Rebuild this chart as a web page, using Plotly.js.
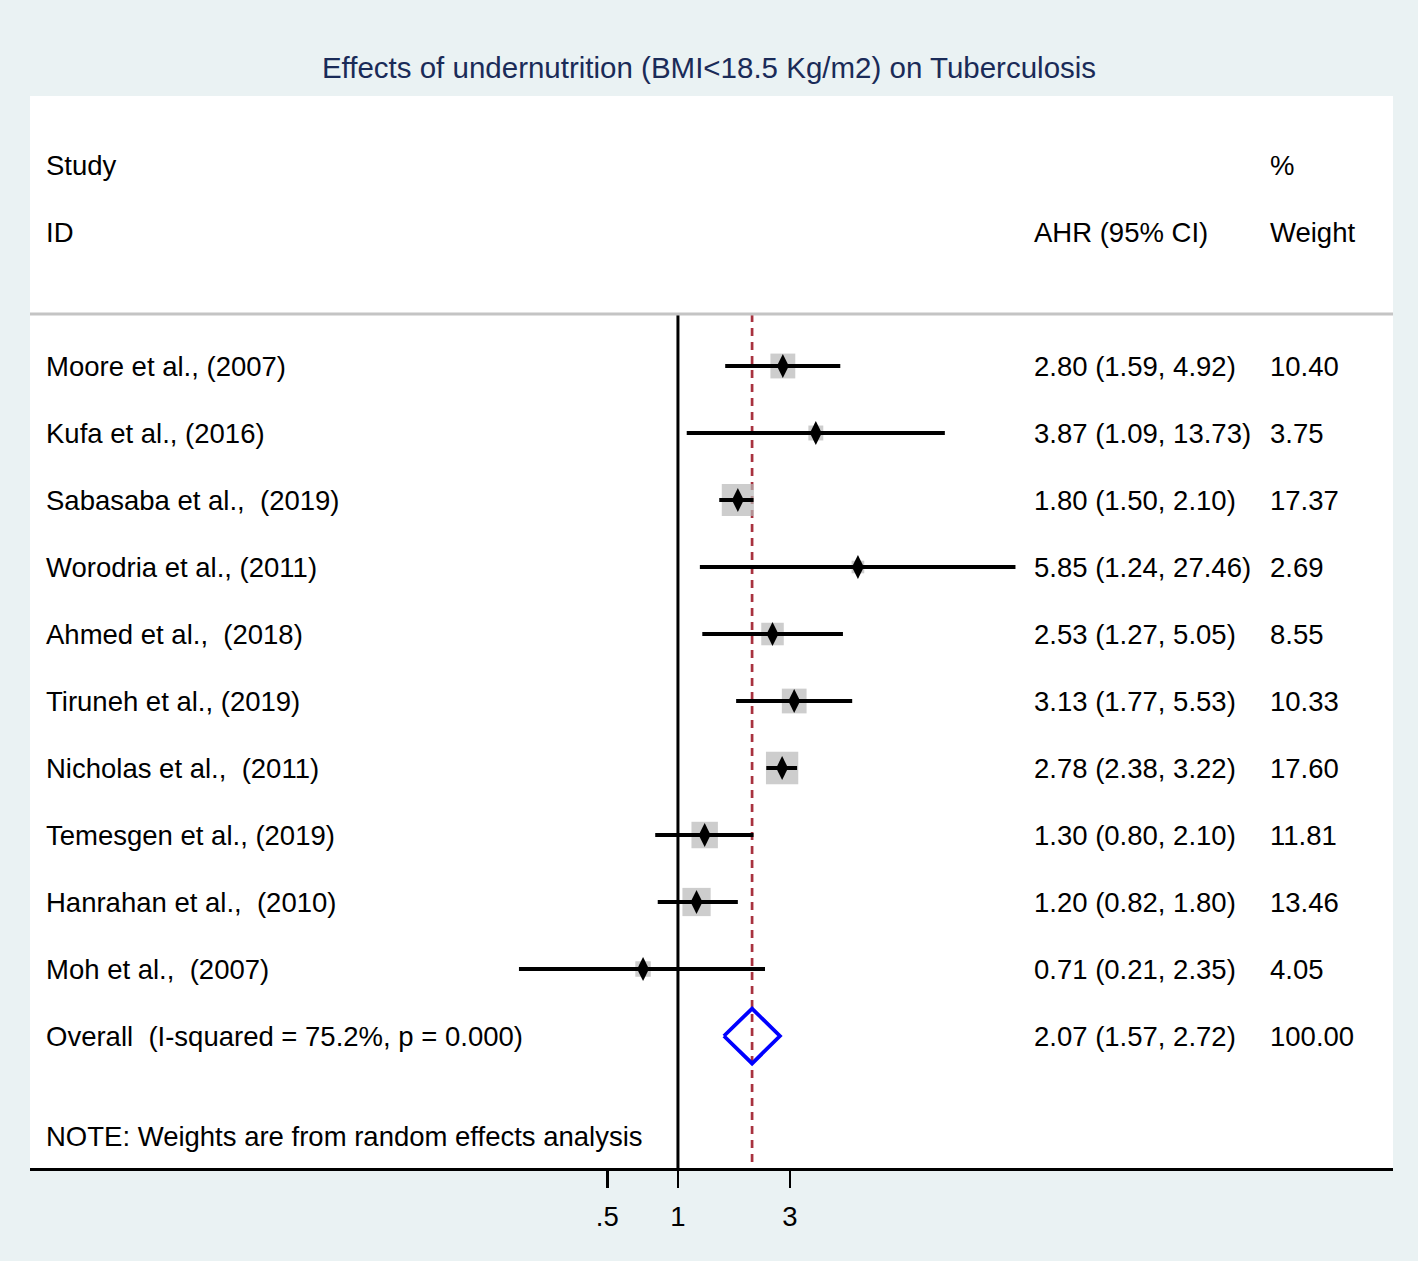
<!DOCTYPE html>
<html>
<head>
<meta charset="utf-8">
<script src="https://cdn.plot.ly/plotly-3.0.1.min.js"></script>
<style>html,body{margin:0;padding:0;background:#eaf2f3;}#chart{width:1418px;height:1261px;}</style>
</head>
<body>
<div id="chart"></div>
<script>
// ---- data ----
const studies = [
  "Moore et al., (2007)",
  "Kufa et al., (2016)",
  "Sabasaba et al., \u00a0(2019)",
  "Worodria et al., (2011)",
  "Ahmed et al., \u00a0(2018)",
  "Tiruneh et al., (2019)",
  "Nicholas et al., \u00a0(2011)",
  "Temesgen et al., (2019)",
  "Hanrahan et al., \u00a0(2010)",
  "Moh et al., \u00a0(2007)"
];
const ahr     = [2.80, 3.87, 1.80, 5.85, 2.53, 3.13, 2.78, 1.30, 1.20, 0.71];
const ciLow   = [1.59, 1.09, 1.50, 1.24, 1.27, 1.77, 2.38, 0.80, 0.82, 0.21];
const ciHigh  = [4.92, 13.73, 2.10, 27.46, 5.05, 5.53, 3.22, 2.10, 1.80, 2.35];
const weights = [10.40, 3.75, 17.37, 2.69, 8.55, 10.33, 17.60, 11.81, 13.46, 4.05];
const overallLabel = "Overall \u00a0(I-squared = 75.2%, p = 0.000)";
const overallEst = 2.07, overallLow = 1.57, overallHigh = 2.72, overallWeight = 100.00;
const tickVals = [0.5, 1, 3];
const tickText = [".5", "1", "3"];

// ---- build ----
const FONT = "Liberation Sans, Arial, Helvetica, sans-serif";
const rows = studies.map((_, i) => i);
const overallRow = studies.length;
const yTop = -0.776;          // header separator
const yBottom = 11.97;

const ciX = [], ciY = [];
rows.forEach(i => { ciX.push(ciLow[i], ciHigh[i], null); ciY.push(i, i, null); });

const traces = [
  { // reference line at 1
    x: [1, 1], y: [yTop, yBottom], mode: 'lines',
    line: { color: 'black', width: 3 }, hoverinfo: 'skip', showlegend: false
  },
  { // overall dashed line
    x: [overallEst, overallEst], y: [yTop, yBottom], mode: 'lines',
    line: { color: '#a8323f', width: 2.7, dash: '8px,6px' }, hoverinfo: 'skip', showlegend: false
  },
  { // weight boxes
    x: ahr, y: rows, mode: 'markers', type: 'scatter',
    marker: { symbol: 'square', color: '#b8b8b8', size: weights.map(w => 7.7 * Math.sqrt(w)), line: { width: 0 } },
    showlegend: false
  },
  { // CIs
    x: ciX, y: ciY, mode: 'lines', line: { color: 'black', width: 4 }, showlegend: false
  },
  { // point estimates
    x: ahr, y: rows, mode: 'markers',
    marker: { symbol: 'diamond-tall', color: 'black', size: 17, line: { width: 0 } }, showlegend: false
  },
  { // overall diamond
    x: [overallLow, overallEst, overallHigh, overallEst, overallLow],
    y: [overallRow, overallRow - 0.41, overallRow, overallRow + 0.41, overallRow],
    mode: 'lines', line: { color: '#0000ff', width: 3.8, shape: 'linear' }, showlegend: false
  }
];

const colStudy = 0.0100, colCI = 0.7352, colW = 0.9082;
const ann = [];
function addText(x, y, text) {
  ann.push({ xref: 'paper', yref: 'y', x: x, y: y, text: text, showarrow: false,
    xanchor: 'left', yanchor: 'middle', font: { family: FONT, size: 27.5, color: 'black' } });
}
addText(colStudy, -3, "Study");
addText(colStudy, -2, "ID");
addText(colW, -3, "%");
addText(colCI, -2, "AHR (95% CI)");
addText(colW, -2, "Weight");
rows.forEach(i => {
  addText(colStudy, i, studies[i]);
  addText(colCI, i, ahr[i].toFixed(2) + " (" + ciLow[i].toFixed(2) + ", " + ciHigh[i].toFixed(2) + ")");
  addText(colW, i, weights[i].toFixed(2));
});
addText(colStudy, overallRow, overallLabel);
addText(colCI, overallRow, overallEst.toFixed(2) + " (" + overallLow.toFixed(2) + ", " + overallHigh.toFixed(2) + ")");
addText(colW, overallRow, overallWeight.toFixed(2));
addText(colStudy, 11.507, "NOTE: Weights are from random effects analysis");

const layout = {
  width: 1418, height: 1261,
  margin: { l: 30, r: 25, t: 96, b: 93 },
  paper_bgcolor: '#eaf2f3', plot_bgcolor: 'white',
  title: { text: "Effects of undernutrition (BMI<18.5 Kg/m2) on Tuberculosis",
    font: { family: FONT, size: 29.5, color: '#1a2b58' }, x: 0.5, xanchor: 'center', y: 1 - 68/1261, yanchor: 'middle' },
  xaxis: { type: 'log', range: [-2.762, 3.048], showgrid: false, zeroline: false,
    showline: true, linecolor: 'black', linewidth: 3,
    ticks: 'outside', ticklen: 17, tickwidth: 2.5, tickcolor: 'black',
    ticklabelstandoff: 5,
    tickvals: tickVals, ticktext: tickText,
    tickfont: { family: FONT, size: 27.5, color: 'black' } },
  yaxis: { range: [yBottom, -4.03], visible: false, showgrid: false, zeroline: false },
  shapes: [
    { type: 'line', xref: 'paper', yref: 'y', x0: 0, x1: 1, y0: yTop, y1: yTop,
      line: { color: '#c4c4c4', width: 3 } }
  ],
  annotations: ann,
  showlegend: false
};

Plotly.newPlot('chart', traces, layout, { displayModeBar: false, staticPlot: true });
</script>
</body>
</html>
